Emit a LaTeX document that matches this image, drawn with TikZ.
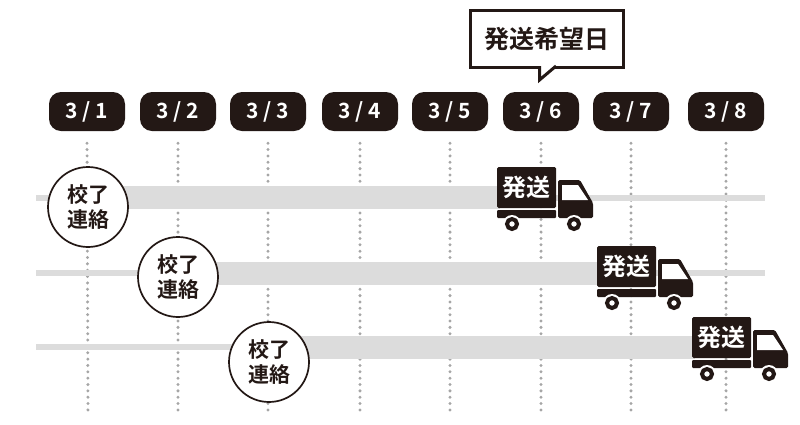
\documentclass[tikz,border=0pt]{standalone}
\usepackage{fontspec}
\setmainfont{Noto Sans CJK JP}[BoldFont={* Bold}]
\definecolor{ink}{HTML}{231815}
\definecolor{band}{HTML}{DCDCDC}
\definecolor{dots}{HTML}{A6A6A6}
\tikzset{
  date/.style={fill=ink, text=white, rounded corners=12pt, minimum width=76pt, minimum height=39pt, inner sep=0pt, font=\fontsize{21}{21}\selectfont\bfseries},
  dayline/.style={dots, line width=3.3pt, line cap=round, dash pattern=on 0pt off 6.35pt, shorten <=12pt},
  notice/.style={draw=ink, line width=1.7pt, fill=white, circle, minimum size=80pt, inner sep=0pt, align=center, font=\fontsize{21}{25}\selectfont\bfseries, text=ink},
  wheel/.style={ink, line width=4pt, fill=white},
  truck/.pic={
    \node[fill=ink, text=white, rounded corners=1.5pt, minimum width=59pt, minimum height=41pt, inner sep=0pt, font=\fontsize{24}{24}\selectfont\bfseries] (-box) at (526.5,187.5) {発送};
    \fill[ink, rounded corners=1pt] (497,210) rectangle (556,218);
    \fill[ink, rounded corners=1.5pt] (558,180) -- (580,180) -- (593,203) -- (593,218) -- (558,218) -- cycle;
    \fill[white] (562,185) -- (578,185) -- (588,200) -- (562,200) -- cycle;
    \fill[white] (512,224) circle (9);
    \fill[white] (574,224) circle (9);
    \draw[wheel] (512,224) circle (5);
    \draw[wheel] (574,224) circle (5);
  },
}
\begin{document}
\begin{tikzpicture}[x=1pt, y=-1pt]
\useasboundingbox (0,0) rectangle (800,424);
% dates
\node[date] (d1) at (87,111.5) {3 / 1};
\node[date] (d2) at (178,111.5) {3 / 2};
\node[date] (d3) at (268,111.5) {3 / 3};
\node[date] (d4) at (360,111.5) {3 / 4};
\node[date] (d5) at (450,111.5) {3 / 5};
\node[date] (d6) at (541,111.5) {3 / 6};
\node[date] (d7) at (631,111.5) {3 / 7};
\node[date] (d8) at (726,111.5) {3 / 8};
\coordinate (e1) at (88,415);
\coordinate (e2) at (178,415);
\coordinate (e3) at (268,415);
\coordinate (e4) at (360,415);
\coordinate (e5) at (450,415);
\coordinate (e6) at (541,415);
\coordinate (e7) at (631,415);
\coordinate (e8) at (726,415);
\draw[dayline] (d1.south) -- (e1);
\draw[dayline] (d2.south) -- (e2);
\draw[dayline] (d3.south) -- (e3);
\draw[dayline] (d4.south) -- (e4);
\draw[dayline] (d5.south) -- (e5);
\draw[dayline] (d6.south) -- (e6);
\draw[dayline] (d7.south) -- (e7);
\draw[dayline] (d8.south) -- (e8);
% bands
\fill[band] (36,195) rectangle (765,201);
\fill[band] (88,186) rectangle (500,209);
\fill[band] (36,270) rectangle (765,276);
\fill[band] (178,262) rectangle (600,285);
\fill[band] (36,344) rectangle (700,350);
\fill[band] (269,336) rectangle (695,359);
% notices
\node[notice] (n1) at (88,207) {校了\\連絡};
\node[notice] (n2) at (178,277) {校了\\連絡};
\node[notice] (n3) at (269,362) {校了\\連絡};
% trucks
\pic (t1) at (0,0) {truck};
\pic (t2) at (100,79) {truck};
\pic (t3) at (195,150) {truck};
% wish
\node[draw=ink, line width=3pt, fill=white, inner sep=0pt, minimum width=153pt, minimum height=57pt, font=\fontsize{25}{25}\selectfont\bfseries, text=ink] (wish) at (547,39) {発送希望日};
\coordinate (tailL) at (539.5,66);
\coordinate (tailR) at (556,66);
\coordinate (tip) at (539.5,80);
\fill[white] (tailL) -- (tip) -- (tailR) -- cycle;
\draw[ink, line width=3pt, miter limit=10] (tailL) -- (tip) -- (tailR);
\end{tikzpicture}
\end{document}
